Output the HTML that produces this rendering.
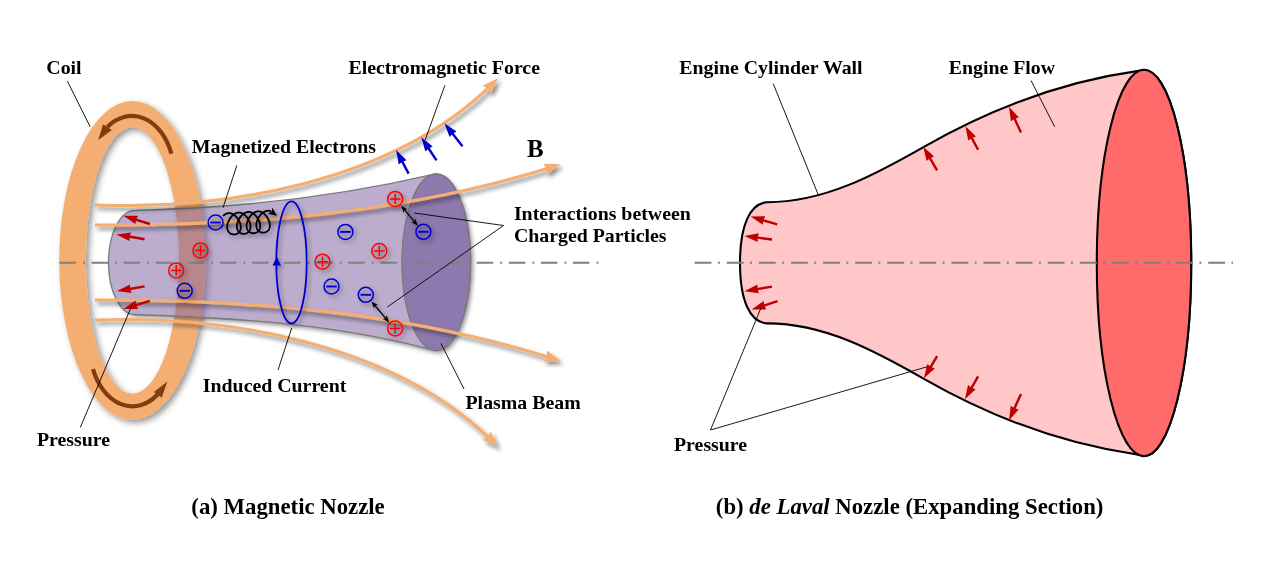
<!DOCTYPE html>
<html><head><meta charset="utf-8"><style>
html,body{margin:0;padding:0;background:#fff;}
svg{display:block;}
text{will-change:transform;}
text{font-family:"Liberation Serif",serif;font-weight:bold;fill:#000;}
</style></head><body>
<svg width="1269" height="578" viewBox="0 0 1269 578">
<defs>
<filter id="shL" x="-20%" y="-20%" width="140%" height="140%">
<feDropShadow dx="2.6" dy="3.2" stdDeviation="2.3" flood-color="#000" flood-opacity="0.48"/>
</filter>
<filter id="sh" x="-20%" y="-20%" width="140%" height="140%">
<feDropShadow dx="3" dy="3" stdDeviation="3" flood-color="#000" flood-opacity="0.42"/>
</filter>
<filter id="blur2" x="-20%" y="-20%" width="140%" height="140%"><feGaussianBlur stdDeviation="2"/></filter>
<filter id="shs" x="-20%" y="-20%" width="140%" height="140%">
<feDropShadow dx="2.3" dy="2.5" stdDeviation="2.2" flood-color="#000" flood-opacity="0.38"/>
</filter>
</defs>
<rect width="1269" height="578" fill="#fff"/>
<!-- ===== (a) Magnetic nozzle ===== -->
<g filter="url(#sh)">
<path d="M59.25,260.4 A73.15,159.4 0 1 0 205.55,260.4 A73.15,159.4 0 1 0 59.25,260.4 Z M85.9,260.4 A46.5,133 0 1 0 178.9,260.4 A46.5,133 0 1 0 85.9,260.4 Z" fill="#F4AE72" fill-rule="evenodd"/>
</g>
<path d="M171.40,153.76 A42.5,60 0 0 0 107.35,126.92" fill="none" stroke="#843C0C" stroke-width="4.2"/>
<path d="M98.1,140.2 L103.1,124.2 L111.8,130.1 Z" fill="#843C0C"/>
<path d="M93.00,369.14 A42.5,60 0 0 0 157.85,394.25" fill="none" stroke="#843C0C" stroke-width="4.2"/>
<path d="M167.3,381.5 L153.9,392 L161.8,397.7 Z" fill="#843C0C"/>
<mask id="mT" maskUnits="userSpaceOnUse" x="0" y="0" width="1269" height="578"><rect width="1269" height="578" fill="#fff"/><path d="M135,210.3 C234.5,208.1 334.9,197.5 432,174.7 A34.3,88.3 0 1 1 432,349.9 C335.2,323.7 234.7,318 135,314.5 A26.5,52.1 0 0 1 135,210.3 Z" fill="#000"/></mask>
<g mask="url(#mT)"><path d="M135,210.3 C234.5,208.1 334.9,197.5 432,174.7 A34.3,88.3 0 1 1 432,349.9 C335.2,323.7 234.7,318 135,314.5 A26.5,52.1 0 0 1 135,210.3 Z" fill="#000" fill-opacity="0.42" transform="translate(2.5,2.5)" filter="url(#blur2)"/></g>
<g>
<path d="M135,210.3 C234.5,208.1 334.9,197.5 432,174.7 A34.3,88.3 0 1 1 432,349.9 C335.2,323.7 234.7,318 135,314.5 A26.5,52.1 0 0 1 135,210.3 Z" fill="#8064A2" fill-opacity="0.53" stroke="#7A7A7A" stroke-width="1.3"/>
<ellipse cx="436.2" cy="262.3" rx="34.3" ry="88.3" fill="#8D79AD" stroke="#7A7A7A" stroke-width="1.3"/>
</g>
<path d="M59.4,262.85 H600" stroke="#808080" stroke-width="2" stroke-dasharray="16.5 7 2 6.6"/>
<g filter="url(#shL)">
<path d="M95,205 C225.4,210.53 390.01,181.93 488.87,87.42" fill="none" stroke="#F4AE72" stroke-width="3.2"/><path d="M498,78.3 L490.74,93.67 L487.81,88.47 L482.61,85.54 Z" fill="#F4AE72"/><path d="M95,225 C247.1,225.78 401.94,213.41 548.12,168.21" fill="none" stroke="#F4AE72" stroke-width="3.2"/><path d="M560.5,164.3 L546.98,174.61 L546.77,168.64 L543.51,163.64 Z" fill="#F4AE72"/><path d="M95,300.2 C247.1,299.42 401.94,311.79 548.12,356.99" fill="none" stroke="#F4AE72" stroke-width="3.2"/><path d="M560.5,360.9 L543.51,361.56 L546.77,356.56 L546.98,350.59 Z" fill="#F4AE72"/><path d="M95,320.2 C225.4,314.67 390.01,343.27 488.87,437.78" fill="none" stroke="#F4AE72" stroke-width="3.2"/><path d="M498,446.9 L482.61,439.66 L487.81,436.73 L490.74,431.53 Z" fill="#F4AE72"/>
</g>
<g>
<path d="M149.8,224 L132.75,218.64" stroke="#C00000" stroke-width="2.4" fill="none"/><path d="M123.4,215.7 L138.08,215.7 L136.09,219.69 L135.44,224.1 Z" fill="#C00000"/>
<path d="M144.6,239.2 L126.06,236.04" stroke="#C00000" stroke-width="2.4" fill="none"/><path d="M116.4,234.4 L130.94,232.41 L129.51,236.63 L129.46,241.09 Z" fill="#C00000"/>
<path d="M144.6,286.4 L126.66,289.45" stroke="#C00000" stroke-width="2.4" fill="none"/><path d="M117,291.1 L130.06,284.41 L130.11,288.87 L131.54,293.09 Z" fill="#C00000"/>
<path d="M149.8,300.8 L132.77,306.03" stroke="#C00000" stroke-width="2.4" fill="none"/><path d="M123.4,308.9 L135.49,300.59 L136.11,305 L138.07,309 Z" fill="#C00000"/>
<path d="M408.6,173.6 L400.69,158.66" stroke="#0000CC" stroke-width="2.4" fill="none"/><path d="M396.1,150 L406.54,160.31 L402.33,161.75 L398.76,164.43 Z" fill="#0000CC"/>
<path d="M436.5,160.3 L426.7,145.48" stroke="#0000CC" stroke-width="2.4" fill="none"/><path d="M421.3,137.3 L432.69,146.55 L428.63,148.4 L425.35,151.41 Z" fill="#0000CC"/>
<path d="M462.5,146.3 L450.46,131" stroke="#0000CC" stroke-width="2.4" fill="none"/><path d="M444.4,123.3 L456.52,131.58 L452.63,133.75 L449.6,137.02 Z" fill="#0000CC"/>
</g>
<g filter="url(#shs)">
<circle cx="215.6" cy="222.5" r="7.5" fill="none" stroke="#0000CC" stroke-width="1.5"/><path d="M210.3,222.5 H220.9" stroke="#0000CC" stroke-width="1.9"/><circle cx="200.5" cy="250.4" r="7.5" fill="none" stroke="#FF0000" stroke-width="1.5"/><path d="M195.2,250.4 H205.8 M200.5,245.1 V255.7" stroke="#FF0000" stroke-width="1.5"/><circle cx="176.2" cy="270.4" r="7.5" fill="none" stroke="#FF0000" stroke-width="1.5"/><path d="M170.9,270.4 H181.5 M176.2,265.1 V275.7" stroke="#FF0000" stroke-width="1.5"/><circle cx="184.7" cy="290.8" r="7.5" fill="none" stroke="#0000CC" stroke-width="1.5"/><path d="M179.4,290.8 H190" stroke="#0000CC" stroke-width="1.9"/>
<circle cx="345.4" cy="231.9" r="7.5" fill="none" stroke="#0000CC" stroke-width="1.5"/><path d="M340.1,231.9 H350.7" stroke="#0000CC" stroke-width="1.9"/><circle cx="379.3" cy="251" r="7.5" fill="none" stroke="#FF0000" stroke-width="1.5"/><path d="M374,251 H384.6 M379.3,245.7 V256.3" stroke="#FF0000" stroke-width="1.5"/><circle cx="322.5" cy="261.7" r="7.5" fill="none" stroke="#FF0000" stroke-width="1.5"/><path d="M317.2,261.7 H327.8 M322.5,256.4 V267" stroke="#FF0000" stroke-width="1.5"/><circle cx="331.5" cy="286.5" r="7.5" fill="none" stroke="#0000CC" stroke-width="1.5"/><path d="M326.2,286.5 H336.8" stroke="#0000CC" stroke-width="1.9"/>
<circle cx="365.8" cy="294.8" r="7.5" fill="none" stroke="#0000CC" stroke-width="1.5"/><path d="M360.5,294.8 H371.1" stroke="#0000CC" stroke-width="1.9"/><circle cx="395.1" cy="328.5" r="7.5" fill="none" stroke="#FF0000" stroke-width="1.5"/><path d="M389.8,328.5 H400.4 M395.1,323.2 V333.8" stroke="#FF0000" stroke-width="1.5"/><circle cx="395.2" cy="198.9" r="7.5" fill="none" stroke="#FF0000" stroke-width="1.5"/><path d="M389.9,198.9 H400.5 M395.2,193.6 V204.2" stroke="#FF0000" stroke-width="1.5"/><circle cx="423.4" cy="231.8" r="7.5" fill="none" stroke="#0000CC" stroke-width="1.5"/><path d="M418.1,231.8 H428.7" stroke="#0000CC" stroke-width="1.9"/>
<path d="M223.06,215.89 L223.46,215.54 L223.86,215.21 L224.27,214.9 L224.68,214.61 L225.1,214.35 L225.52,214.11 L225.94,213.9 L226.37,213.71 L226.79,213.55 L227.22,213.42 L227.65,213.31 L228.08,213.22 L228.51,213.17 L228.95,213.14 L229.38,213.13 L229.81,213.16 L230.24,213.21 L230.67,213.29 L231.1,213.39 L231.53,213.52 L231.96,213.68 L232.38,213.86 L232.8,214.07 L233.22,214.3 L233.64,214.56 L234.05,214.84 L234.46,215.14 L234.86,215.46 L235.25,215.81 L235.64,216.17 L236.02,216.56 L236.4,216.96 L236.76,217.38 L237.12,217.82 L237.46,218.27 L237.8,218.73 L238.12,219.21 L238.42,219.7 L238.72,220.2 L238.99,220.71 L239.25,221.22 L239.5,221.75 L239.72,222.27 L239.93,222.8 L240.11,223.34 L240.28,223.87 L240.42,224.41 L240.54,224.94 L240.64,225.47 L240.71,226 L240.76,226.52 L240.78,227.03 L240.78,227.54 L240.75,228.03 L240.7,228.52 L240.62,228.99 L240.51,229.45 L240.38,229.9 L240.22,230.33 L240.04,230.74 L239.84,231.14 L239.61,231.52 L239.35,231.88 L239.08,232.21 L238.78,232.53 L238.47,232.83 L238.13,233.1 L237.78,233.35 L237.41,233.57 L237.03,233.77 L236.64,233.94 L236.23,234.09 L235.81,234.21 L235.39,234.31 L234.96,234.38 L234.52,234.42 L234.08,234.44 L233.65,234.43 L233.21,234.39 L232.78,234.32 L232.35,234.23 L231.93,234.11 L231.52,233.97 L231.12,233.79 L230.73,233.6 L230.35,233.38 L229.99,233.13 L229.65,232.86 L229.32,232.57 L229.02,232.25 L228.73,231.92 L228.47,231.56 L228.23,231.18 L228.01,230.79 L227.82,230.37 L227.65,229.94 L227.5,229.49 L227.39,229.03 L227.29,228.55 L227.23,228.06 L227.19,227.56 L227.17,227.05 L227.18,226.53 L227.22,226.01 L227.28,225.47 L227.36,224.93 L227.47,224.39 L227.6,223.85 L227.76,223.31 L227.93,222.76 L228.13,222.22 L228.34,221.68 L228.58,221.14 L228.83,220.62 L229.1,220.09 L229.38,219.58 L229.68,219.08 L230,218.58 L230.32,218.1 L230.66,217.64 L231.01,217.18 L231.37,216.75 L231.74,216.33 L232.12,215.92 L232.51,215.54 L232.9,215.17 L233.3,214.83 L233.7,214.51 L234.11,214.21 L234.52,213.93 L234.94,213.68 L235.36,213.45 L235.78,213.24 L236.21,213.06 L236.64,212.91 L237.07,212.78 L237.5,212.68 L237.93,212.61 L238.36,212.56 L238.79,212.54 L239.22,212.55 L239.66,212.58 L240.09,212.64 L240.52,212.73 L240.95,212.84 L241.38,212.98 L241.8,213.15 L242.22,213.34 L242.65,213.55 L243.06,213.8 L243.48,214.06 L243.89,214.35 L244.29,214.66 L244.69,214.99 L245.09,215.34 L245.47,215.71 L245.85,216.1 L246.22,216.51 L246.58,216.93 L246.94,217.38 L247.28,217.83 L247.61,218.3 L247.92,218.78 L248.22,219.27 L248.51,219.78 L248.78,220.29 L249.04,220.81 L249.28,221.33 L249.49,221.86 L249.69,222.39 L249.87,222.93 L250.03,223.46 L250.16,224 L250.28,224.53 L250.36,225.06 L250.43,225.58 L250.47,226.1 L250.48,226.61 L250.47,227.12 L250.43,227.61 L250.37,228.09 L250.28,228.56 L250.17,229.01 L250.03,229.45 L249.87,229.88 L249.68,230.29 L249.46,230.68 L249.23,231.05 L248.97,231.4 L248.68,231.73 L248.38,232.04 L248.06,232.33 L247.72,232.59 L247.36,232.83 L246.99,233.05 L246.6,233.24 L246.2,233.4 L245.79,233.54 L245.37,233.66 L244.94,233.74 L244.51,233.8 L244.08,233.84 L243.64,233.84 L243.2,233.82 L242.77,233.78 L242.33,233.7 L241.91,233.6 L241.49,233.47 L241.08,233.32 L240.68,233.14 L240.3,232.94 L239.93,232.71 L239.57,232.45 L239.24,232.17 L238.92,231.87 L238.62,231.55 L238.34,231.21 L238.09,230.84 L237.85,230.46 L237.64,230.06 L237.46,229.64 L237.3,229.2 L237.16,228.74 L237.05,228.28 L236.97,227.8 L236.91,227.3 L236.88,226.8 L236.87,226.29 L236.89,225.76 L236.94,225.24 L237,224.7 L237.1,224.16 L237.21,223.62 L237.35,223.07 L237.51,222.53 L237.7,221.99 L237.9,221.45 L238.12,220.91 L238.36,220.37 L238.62,219.85 L238.89,219.33 L239.18,218.82 L239.49,218.32 L239.81,217.83 L240.14,217.35 L240.48,216.89 L240.83,216.44 L241.2,216.01 L241.57,215.6 L241.95,215.2 L242.34,214.82 L242.73,214.46 L243.13,214.13 L243.54,213.81 L243.95,213.52 L244.36,213.25 L244.78,213.01 L245.2,212.78 L245.63,212.59 L246.05,212.42 L246.48,212.27 L246.91,212.15 L247.34,212.06 L247.77,212 L248.21,211.96 L248.64,211.95 L249.07,211.96 L249.5,212.01 L249.93,212.08 L250.36,212.17 L250.79,212.29 L251.22,212.44 L251.64,212.62 L252.07,212.82 L252.49,213.04 L252.9,213.29 L253.32,213.56 L253.73,213.86 L254.13,214.17 L254.53,214.51 L254.92,214.87 L255.3,215.25 L255.68,215.64 L256.05,216.06 L256.41,216.49 L256.75,216.94 L257.09,217.4 L257.42,217.87 L257.73,218.35 L258.02,218.85 L258.31,219.36 L258.57,219.87 L258.82,220.39 L259.05,220.92 L259.26,221.45 L259.46,221.98 L259.63,222.52 L259.78,223.05 L259.9,223.58 L260.01,224.12 L260.09,224.64 L260.15,225.17 L260.18,225.68 L260.18,226.19 L260.16,226.69 L260.12,227.18 L260.05,227.66 L259.95,228.12 L259.83,228.57 L259.68,229.01 L259.51,229.43 L259.31,229.83 L259.09,230.21 L258.84,230.58 L258.57,230.92 L258.29,231.25 L257.98,231.55 L257.65,231.83 L257.3,232.08 L256.94,232.32 L256.56,232.52 L256.17,232.71 L255.77,232.86 L255.35,232.99 L254.93,233.1 L254.5,233.18 L254.07,233.23 L253.63,233.25 L253.19,233.25 L252.76,233.22 L252.32,233.16 L251.89,233.08 L251.47,232.97 L251.05,232.83 L250.65,232.67 L250.25,232.48 L249.87,232.27 L249.51,232.03 L249.16,231.77 L248.83,231.48 L248.52,231.18 L248.22,230.85 L247.95,230.5 L247.71,230.12 L247.48,229.73 L247.28,229.32 L247.1,228.9 L246.95,228.46 L246.82,228 L246.72,227.53 L246.65,227.04 L246.6,226.54 L246.58,226.04 L246.58,225.52 L246.6,225 L246.66,224.46 L246.73,223.93 L246.83,223.39 L246.96,222.84 L247.11,222.3 L247.27,221.76 L247.46,221.21 L247.67,220.67 L247.9,220.14 L248.15,219.6 L248.41,219.08 L248.69,218.56 L248.98,218.06 L249.29,217.56 L249.62,217.08 L249.95,216.6 L250.3,216.15 L250.66,215.7 L251.02,215.28 L251.4,214.87 L251.78,214.48 L252.17,214.11 L252.57,213.76 L252.97,213.43 L253.38,213.12 L253.79,212.84 L254.21,212.57 L254.63,212.34 L255.05,212.12 L255.47,211.94 L255.9,211.77 L256.33,211.64 L256.76,211.53 L257.19,211.45 L257.62,211.39 L258.05,211.36 L258.49,211.36 L258.92,211.38 L259.35,211.44 L259.78,211.51 L260.21,211.62 L260.64,211.75 L261.06,211.91 L261.49,212.09 L261.91,212.3 L262.33,212.53 L262.74,212.79 L263.16,213.07 L263.56,213.37 L263.96,213.69 L264.36,214.04 L264.75,214.4 L265.13,214.79 L265.5,215.19 L265.87,215.61 L266.22,216.05 L266.57,216.5 L266.9,216.96 L267.22,217.44 L267.53,217.93 L267.82,218.43 L268.1,218.94 L268.36,219.45 L268.6,219.97 L268.83,220.5 L269.03,221.03 L269.22,221.57 L269.38,222.1 L269.52,222.64 L269.64,223.17 L269.74,223.7 L269.81,224.23 L269.86,224.75 L269.88,225.26 L269.88,225.77 L269.85,226.26 L269.8,226.75 L269.72,227.22 L269.61,227.68 L269.48,228.13 L269.33,228.56 L269.14,228.97 L268.94,229.37 L268.71,229.75 L268.46,230.1 L268.18,230.44 L267.88,230.76 L267.57,231.05 L267.23,231.32 L266.88,231.57 L266.51,231.8 L266.13,232 L265.74,232.17 L265.33,232.32 L264.91,232.44 L264.49,232.53 L264.06,232.6 L263.62,232.65 L263.18,232.66 L262.75,232.65 L262.31,232.61 L261.88,232.55 L261.45,232.45 L261.03,232.33 L260.62,232.19 L260.22,232.02 L259.83,231.82 L259.45,231.6 L259.09,231.35 L258.75,231.08 L258.42,230.79 L258.12,230.48 L257.83,230.14 L257.57,229.78 L257.33,229.4 L257.11,229.01 L256.92,228.59 L256.75,228.16 L256.61,227.71 L256.49,227.25 L256.4,226.77 L256.33,226.28 L256.29,225.78 L256.27,225.27 L256.29,224.75 L256.32,224.23 L256.38,223.69 L256.47,223.15 L256.58,222.61 L256.71,222.07 L256.86,221.52 L257.04,220.98 L257.23,220.44 L257.45,219.9 L257.68,219.36 L257.93,218.84 L258.2,218.31 L258.49,217.8 L258.79,217.3 L259.1,216.8 L259.43,216.32 L259.77,215.86 L260.12,215.4 L260.48,214.97 L260.85,214.55 L261.23,214.14 L261.61,213.76 L262.01,213.4 L262.4,213.05 L262.81,212.73 L263.22,212.43 L263.63,212.15 L264.05,211.9 L264.47,211.67 L264.89,211.47 L265.32,211.29 L265.75,211.13 L266.17,211.01 L266.6,210.91 L267.04,210.83 L267.47,210.79 L267.9,210.77 L268.33,210.77 L268.76,210.81 L269.2,210.87 L269.63,210.95 L270.05,211.07 L270.48,211.21 L270.91,211.37" fill="none" stroke="#000" stroke-width="1.8"/><path d="M277,215.8 L267.92,213.84 L271.5,211.8 L272.33,207.77 Z" fill="#000"/>
<ellipse cx="291.5" cy="262.4" rx="15.2" ry="61" fill="none" stroke="#0000CC" stroke-width="1.8"/>
<path d="M276.8,256.8 L272.6,265.6 L281,265.6 Z" fill="#0000CC"/>
<path d="M404.33,209.57 L414.57,221.93" stroke="#000" stroke-width="1.3"/><path d="M417.7,225.7 L411.12,222.07 L414.35,221.66 L415.35,218.56 Z" fill="#000"/><path d="M401.2,205.8 L403.55,212.94 L404.55,209.84 L407.78,209.43 Z" fill="#000"/>
<path d="M374.67,305.24 L386.03,318.66" stroke="#000" stroke-width="1.3"/><path d="M389.2,322.4 L382.58,318.84 L385.81,318.39 L386.77,315.28 Z" fill="#000"/><path d="M371.5,301.5 L373.93,308.62 L374.89,305.51 L378.12,305.06 Z" fill="#000"/>
</g>
<g stroke="#000" stroke-width="0.9" fill="none">
<path d="M67.4,81.2 L90.2,126.9"/>
<path d="M236.8,165.5 L223,207.8"/>
<path d="M444.9,85.3 L425.2,139.9"/>
<path d="M414.2,213 L503.5,225.5 L387.2,307.1"/>
<path d="M291.7,328 L278,370"/>
<path d="M441,343.5 L464,389"/>
<path d="M131.5,306.3 L80.3,427.5"/>
</g>
<text x="46.3" y="74.2" font-size="19.85">Coil</text>
<text x="348.4" y="73.9" font-size="19.85">Electromagnetic Force</text>
<text x="191.8" y="152.5" font-size="19.85">Magnetized Electrons</text>
<text x="527" y="157.1" font-size="25">B</text>
<text x="513.9" y="219.7" font-size="19.85">Interactions between</text>
<text x="513.9" y="242.3" font-size="19.85">Charged Particles</text>
<text x="202.8" y="392" font-size="19.85">Induced Current</text>
<text x="465.5" y="409.1" font-size="19.85">Plasma Beam</text>
<text x="36.9" y="446" font-size="19.85">Pressure</text>
<text x="191.3" y="513.7" font-size="22.77">(a) Magnetic Nozzle</text>
<!-- ===== (b) de Laval nozzle ===== -->
<path d="M766.3,202.2 C824.3,202.5 875.9,174.2 923.9,146.8 C991.4,108.3 1060.1,81.7 1138.5,70.9 L1144,69.8 A47.2,193 0 0 1 1144,456.2 L1138.5,454.7 C1060.1,443.9 991.4,417.3 923.9,378.8 C875.9,351.4 824.3,323.1 766.3,323.4 C750,321.5 740,301 740,263 C740,225 750,204.2 766.3,202.2 Z" fill="#FFC7C7" stroke="#000" stroke-width="2.1" stroke-linejoin="round"/>
<ellipse cx="1144" cy="263" rx="47.2" ry="193.2" fill="#FF6B6B" stroke="#000" stroke-width="2.1"/>
<path d="M694.6,262.7 H1233" stroke="#808080" stroke-width="2" stroke-dasharray="16.9 6.4 2 6.8"/>
<path d="M777.2,224.4 L759.99,219.29" stroke="#C00000" stroke-width="2.4" fill="none"/><path d="M750.6,216.5 L765.27,216.27 L763.35,220.29 L762.77,224.7 Z" fill="#C00000"/>
<path d="M772,239.5 L754.12,237.17" stroke="#C00000" stroke-width="2.4" fill="none"/><path d="M744.4,235.9 L758.85,233.35 L757.59,237.62 L757.71,242.07 Z" fill="#C00000"/>
<path d="M772,286.6 L754.06,289.65" stroke="#C00000" stroke-width="2.4" fill="none"/><path d="M744.4,291.3 L757.46,284.61 L757.51,289.07 L758.94,293.29 Z" fill="#C00000"/>
<path d="M777.6,301.2 L760.94,306.52" stroke="#C00000" stroke-width="2.4" fill="none"/><path d="M751.6,309.5 L763.6,301.05 L764.27,305.46 L766.28,309.43 Z" fill="#C00000"/>
<path d="M937.1,170.3 L928.25,155.16" stroke="#C00000" stroke-width="2.4" fill="none"/><path d="M923.3,146.7 L934.17,156.56 L930.01,158.18 L926.57,161.01 Z" fill="#C00000"/>
<path d="M978.1,149.8 L970.12,134.85" stroke="#C00000" stroke-width="2.4" fill="none"/><path d="M965.5,126.2 L975.98,136.48 L971.76,137.93 L968.21,140.62 Z" fill="#C00000"/>
<path d="M1021,132.5 L1013.13,115.59" stroke="#C00000" stroke-width="2.4" fill="none"/><path d="M1009,106.7 L1018.89,117.54 L1014.61,118.76 L1010.91,121.25 Z" fill="#C00000"/>
<path d="M937.1,356.1 L928.93,369.79" stroke="#C00000" stroke-width="2.4" fill="none"/><path d="M923.9,378.2 L927.3,363.92 L930.72,366.78 L934.86,368.44 Z" fill="#C00000"/>
<path d="M978.1,376.3 L969.78,390.8" stroke="#C00000" stroke-width="2.4" fill="none"/><path d="M964.9,399.3 L968.05,384.97 L971.52,387.76 L975.68,389.35 Z" fill="#C00000"/>
<path d="M1021,393.9 L1013.04,411.47" stroke="#C00000" stroke-width="2.4" fill="none"/><path d="M1009,420.4 L1010.77,405.83 L1014.49,408.28 L1018.78,409.46 Z" fill="#C00000"/>
<g stroke="#000" stroke-width="0.9" fill="none">
<path d="M773.2,83.6 L818.3,194.9"/>
<path d="M1031,80.5 L1054.7,126.8"/>
<path d="M761,307.9 L710.5,430 L927,366.8"/>
</g>
<text x="679.2" y="73.8" font-size="19.85">Engine Cylinder Wall</text>
<text x="948.7" y="73.8" font-size="19.85">Engine Flow</text>
<text x="674" y="450.8" font-size="19.85">Pressure</text>
<text x="715.8" y="513.7" font-size="22.77">(b) <tspan font-style="italic">de Laval</tspan> Nozzle (Expanding Section)</text>
</svg>
</body></html>
